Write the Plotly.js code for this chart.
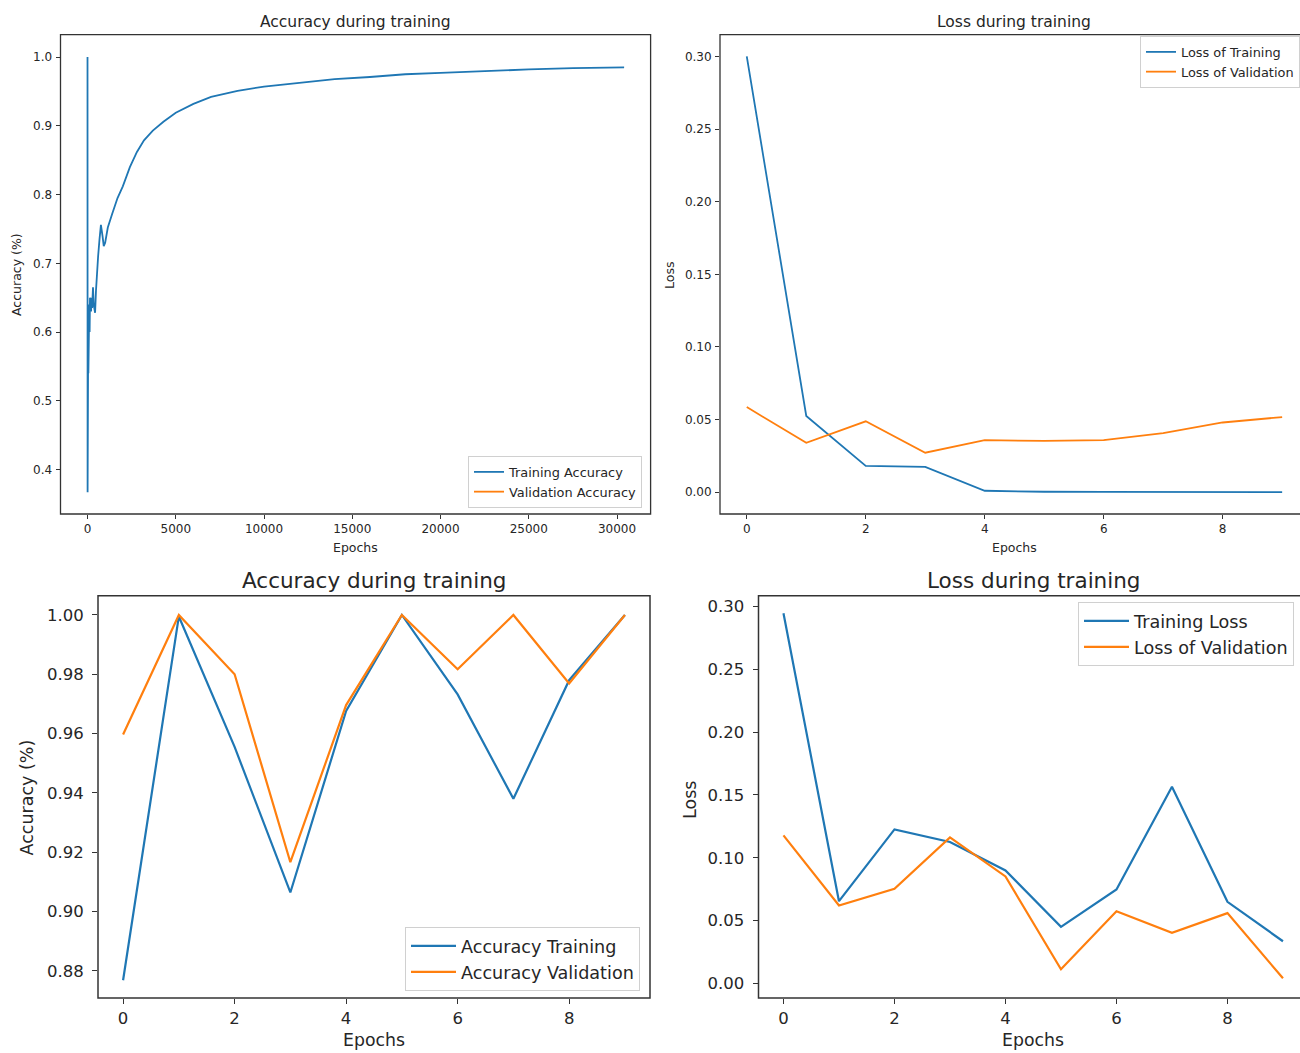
<!DOCTYPE html>
<html>
<head>
<meta charset="utf-8">
<script src="https://cdn.plot.ly/plotly-3.0.1.min.js"></script>
<style>html,body{margin:0;padding:0;background:#fff;}#chart{width:1300px;height:1053px;}</style>
</head>
<body>
<div id="chart"></div>
<script>
// ---- Panel 1: accuracy during training (long run) ----
const accEpochsLong = [0, 5, 10, 20, 30, 40, 50, 60, 70, 80, 90, 100, 120, 140, 160, 180, 200, 230, 260, 311, 350, 390, 430, 480, 540, 600, 680, 760, 850, 920, 1000, 1150, 1400, 1700, 2000, 2400, 2800, 3200, 3700, 4300, 5000, 6000, 7000, 8500, 10000, 12000, 14000, 16000, 18000, 20000, 22500, 25000, 27500, 30400];
const accTrainLong = [1.0, 0.367, 0.50, 0.56, 0.52, 0.60, 0.54, 0.62, 0.55, 0.63, 0.58, 0.64, 0.60, 0.65, 0.62, 0.645, 0.63, 0.65, 0.635, 0.665, 0.64, 0.632, 0.628, 0.66, 0.69, 0.71, 0.735, 0.756, 0.74, 0.725, 0.73, 0.752, 0.772, 0.795, 0.812, 0.84, 0.862, 0.879, 0.893, 0.906, 0.919, 0.932, 0.942, 0.951, 0.957, 0.963, 0.968, 0.971, 0.975, 0.977, 0.980, 0.982, 0.984, 0.985];
// validation accuracy is listed in the legend but no values are drawn
const accValEpochsLong = [0];
const accValLong = [null];

// ---- Panel 2: loss during training (10 epochs) ----
const epochs = [0, 1, 2, 3, 4, 5, 6, 7, 8, 9];
const lossTrainA = [0.300, 0.0525, 0.0181, 0.0174, 0.0010, 0.0003, 0.0002, 0.0001, 0.0001, 0.0001];
const lossValA = [0.0586, 0.034, 0.0488, 0.0272, 0.0358, 0.0353, 0.0358, 0.0407, 0.048, 0.0517];

// ---- Panel 3: accuracy during training (10 epochs) ----
const accTrainB = [0.8768, 0.9995, 0.9555, 0.9064, 0.9676, 1.0, 0.9732, 0.938, 0.978, 1.0];
const accValB = [0.9597, 1.0, 0.98, 0.9166, 0.9696, 1.0, 0.9817, 1.0, 0.9769, 1.0];

// ---- Panel 4: loss during training (10 epochs) ----
const lossTrainB = [0.2947, 0.0654, 0.1226, 0.1125, 0.0899, 0.045, 0.0747, 0.1566, 0.0649, 0.0335];
const lossValB = [0.1178, 0.062, 0.0753, 0.1162, 0.0851, 0.0112, 0.0574, 0.0402, 0.0559, 0.004];

const BLUE = '#1f77b4', ORANGE = '#ff7f0e';
const FONT = 'DejaVu Sans, sans-serif';
const TXT = '#262626';

const traces = [
  {x: accEpochsLong, y: accTrainLong, name: 'Training Accuracy', type: 'scatter', mode: 'lines', line: {color: BLUE, width: 1.8}, xaxis: 'x', yaxis: 'y', legend: 'legend', showlegend: true},
  {x: accValEpochsLong, y: accValLong, name: 'Validation Accuracy', type: 'scatter', mode: 'lines', line: {color: ORANGE, width: 1.8}, xaxis: 'x', yaxis: 'y', legend: 'legend', showlegend: true},
  {x: epochs, y: lossTrainA, name: 'Loss of Training', type: 'scatter', mode: 'lines', line: {color: BLUE, width: 1.8}, xaxis: 'x2', yaxis: 'y2', legend: 'legend2'},
  {x: epochs, y: lossValA, name: 'Loss of Validation', type: 'scatter', mode: 'lines', line: {color: ORANGE, width: 1.8}, xaxis: 'x2', yaxis: 'y2', legend: 'legend2'},
  {x: epochs, y: accTrainB, name: 'Accuracy Training', type: 'scatter', mode: 'lines', line: {color: BLUE, width: 2.2}, xaxis: 'x3', yaxis: 'y3', legend: 'legend3'},
  {x: epochs, y: accValB, name: 'Accuracy Validation', type: 'scatter', mode: 'lines', line: {color: ORANGE, width: 2.2}, xaxis: 'x3', yaxis: 'y3', legend: 'legend3'},
  {x: epochs, y: lossTrainB, name: 'Training Loss', type: 'scatter', mode: 'lines', line: {color: BLUE, width: 2.2}, xaxis: 'x4', yaxis: 'y4', legend: 'legend4'},
  {x: epochs, y: lossValB, name: 'Loss of Validation', type: 'scatter', mode: 'lines', line: {color: ORANGE, width: 2.2}, xaxis: 'x4', yaxis: 'y4', legend: 'legend4'}
];

function ax(domain, range, dtick, fmt, size, anchor, standoff) {
  return {domain: domain, range: range, dtick: dtick, tick0: 0, tickformat: fmt,
    tickfont: {family: FONT, size: size, color: TXT}, ticks: 'outside', ticklen: size > 14 ? 5 : 4,
    tickcolor: '#333', tickwidth: 1, showgrid: false, zeroline: false, showline: false,
    anchor: anchor, fixedrange: true, automargin: false, ticklabelstandoff: standoff || 0};
}
function P(px) { return px / 1300; }
function Q(py) { return 1 - py / 1053; }

const TOP = [Q(514), Q(34.6)], BOT = [Q(998), Q(595.7)];
function leg(x, y, xa, ya, size, iw) {
  return {x: x, y: y, xanchor: xa, yanchor: ya, bgcolor: 'rgba(255,255,255,0.85)', bordercolor: '#d0d0d0', borderwidth: 1,
    font: {family: FONT, size: size, color: TXT}, itemwidth: iw, visible: true};
}

const layout = {
  width: 1300, height: 1053,
  margin: {l: 0, r: 0, t: 0, b: 0},
  showlegend: true,
  paper_bgcolor: '#fff', plot_bgcolor: '#fff',
  font: {family: FONT, color: TXT},
  xaxis: ax([P(60.5), P(650.6)], [-1530, 31900], 5000, 'd', 12, 'y'),
  yaxis: ax(TOP, [0.3354, 1.0327], 0.1, '.1f', 12, 'x', 1),
  xaxis2: ax([P(720), 1], [-0.45, 9.30], 2, 'd', 12, 'y2'),
  yaxis2: ax(TOP, [-0.015, 0.315], 0.05, '.2f', 12, 'x2', 1),
  xaxis3: ax([P(98), P(650)], [-0.45, 9.45], 2, 'd', 16.5, 'y3'),
  yaxis3: ax(BOT, [0.8708, 1.0065], 0.02, '.2f', 16.5, 'x3', 5),
  xaxis4: ax([P(758.5), 1], [-0.45, 9.307], 2, 'd', 16.5, 'y4'),
  yaxis4: ax(BOT, [-0.0117, 0.3087], 0.05, '.2f', 16.5, 'x4', 5),
  legend: leg(P(642), Q(508), 'right', 'bottom', 12.9, 30),
  legend2: leg(P(1140), Q(36), 'left', 'top', 12.9, 30),
  legend3: leg(P(640), Q(991), 'right', 'bottom', 17.6, 45),
  legend4: leg(P(1078), Q(602), 'left', 'top', 17.6, 45),
  shapes: [
    {type: 'rect', xref: 'paper', yref: 'paper', x0: P(60.5), x1: P(650.6), y0: TOP[0], y1: TOP[1], line: {color: '#333', width: 1.3}},
    {type: 'rect', xref: 'paper', yref: 'paper', x0: P(720), x1: P(1308), y0: TOP[0], y1: TOP[1], line: {color: '#333', width: 1.3}},
    {type: 'rect', xref: 'paper', yref: 'paper', x0: P(98), x1: P(650), y0: BOT[0], y1: BOT[1], line: {color: '#333', width: 1.5}},
    {type: 'rect', xref: 'paper', yref: 'paper', x0: P(758.5), x1: P(1309), y0: BOT[0], y1: BOT[1], line: {color: '#333', width: 1.5}}
  ],
  annotations: [
    {text: 'Accuracy during training', x: P(355.5), y: Q(22), font: {size: 15.5}},
    {text: 'Epochs', x: P(355.5), y: Q(547), font: {size: 12.5}},
    {text: 'Accuracy (%)', x: P(17), y: Q(275), textangle: -90, font: {size: 12.5}},
    {text: 'Loss during training', x: P(1014), y: Q(22), font: {size: 15.5}},
    {text: 'Epochs', x: P(1014), y: Q(547), font: {size: 12.5}},
    {text: 'Loss', x: P(669), y: Q(276), textangle: -90, font: {size: 12.5}},
    {text: 'Accuracy during training', x: P(374), y: Q(580), font: {size: 21.5}},
    {text: 'Epochs', x: P(374), y: Q(1040), font: {size: 17.3}},
    {text: 'Accuracy (%)', x: P(26.5), y: Q(798), textangle: -90, font: {size: 17.5}},
    {text: 'Loss during training', x: P(1033), y: Q(580), font: {size: 21.5}},
    {text: 'Epochs', x: P(1033), y: Q(1040), font: {size: 17.3}},
    {text: 'Loss', x: P(690), y: Q(800), textangle: -90, font: {size: 17.5}}
  ].map(a => Object.assign({xref: 'paper', yref: 'paper', showarrow: false, xanchor: 'center', yanchor: 'middle'}, a, {font: Object.assign({family: FONT, color: TXT}, a.font)}))
};

Plotly.newPlot('chart', traces, layout, {staticPlot: true, displayModeBar: false});
</script>
</body>
</html>
